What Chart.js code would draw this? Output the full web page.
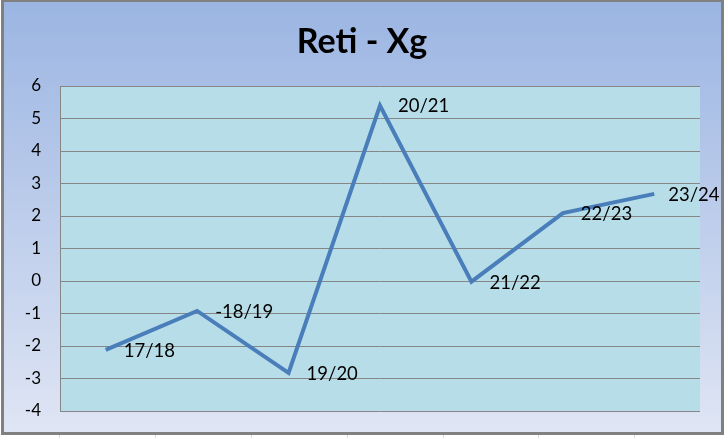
<!DOCTYPE html>
<html>
<head>
<meta charset="utf-8">
<script src="https://cdn.jsdelivr.net/npm/chart.js@4/dist/chart.umd.min.js"></script>
<style>
  html, body { margin: 0; padding: 0; background: #ffffff; }
  #wrap { width: 724px; height: 438px; position: relative; }
</style>
</head>
<body>
<div id="wrap"><canvas id="c" width="724" height="438"></canvas></div>
<script>
const chartTitle = "Reti - Xg";
const categories = ["17/18", "18/19", "19/20", "20/21", "21/22", "22/23", "23/24"];
const pointLabels = ["17/18", "-18/19", "19/20", "20/21", "21/22", "22/23", "23/24"];
const values = [-2.12, -0.92, -2.83, 5.4, -0.02, 2.09, 2.68];
const yMin = -4, yMax = 6, yStep = 1;

const frameBg = {
  id: 'frameBg',
  beforeDraw(chart) {
    const ctx = chart.ctx, W = chart.width, H = chart.height;
    ctx.save();
    ctx.fillStyle = '#ffffff';
    ctx.fillRect(0, 0, W, H);
    ctx.strokeStyle = '#d9d9d9';
    ctx.lineWidth = 1;
    [59, 155, 251, 347, 443, 538, 634].forEach(x => {
      ctx.beginPath(); ctx.moveTo(x + 0.5, 434); ctx.lineTo(x + 0.5, H); ctx.stroke();
    });
    const g = ctx.createLinearGradient(0, 0, 0, 434);
    g.addColorStop(0, '#9bb5e2');
    g.addColorStop(1, '#dfe5f4');
    ctx.fillStyle = g;
    ctx.fillRect(2, 0, 721, 434);
    ctx.strokeStyle = '#808080';
    ctx.lineWidth = 3;
    ctx.strokeRect(2.5, 0.5, 720, 433);
    const a = chart.chartArea;
    ctx.fillStyle = '#b7dee8';
    ctx.fillRect(a.left, a.top, a.right - a.left, a.bottom - a.top);
    ctx.fillStyle = '#000000';
    ctx.font = 'bold 34px Lato';
    ctx.textAlign = 'center';
    ctx.textBaseline = 'alphabetic';
    ctx.fillText(chartTitle, 362, 53);
    ctx.restore();
  }
};

const labelPlugin = {
  id: 'pointLabelsPlugin',
  afterDatasetsDraw(chart) {
    const ctx = chart.ctx;
    const meta = chart.getDatasetMeta(0);
    ctx.save();
    ctx.fillStyle = '#000000';
    ctx.font = '18.5px Lato';
    ctx.textAlign = 'left';
    ctx.textBaseline = 'middle';
    meta.data.forEach((pt, i) => {
      const dx = (i === meta.data.length - 1) ? 14 : 18;
      ctx.fillText(pointLabels[i], pt.x + dx, pt.y + 1);
    });
    ctx.restore();
  }
};

new Chart(document.getElementById('c'), {
  type: 'line',
  data: {
    labels: categories,
    datasets: [{
      data: values,
      borderColor: '#4a7ebb',
      borderWidth: 4,
      pointRadius: 0,
      pointHoverRadius: 0,
      tension: 0,
      fill: false
    }]
  },
  options: {
    responsive: false,
    animation: false,
    devicePixelRatio: 1,
    layout: { padding: { top: 86, bottom: 27, left: 0, right: 24 } },
    plugins: { legend: { display: false }, title: { display: false }, tooltip: { enabled: false } },
    scales: {
      x: {
        type: 'category',
        offset: true,
        display: false
      },
      y: {
        min: yMin,
        max: yMax,
        afterFit(scale) { scale.width = 60; scale.paddingTop = 0; scale.paddingBottom = 0; },
        ticks: {
          stepSize: yStep,
          color: '#000000',
          font: { family: 'Lato', size: 17 },
          padding: 19
        },
        grid: { color: '#868686', lineWidth: 1, drawTicks: false },
        border: { display: true, color: '#868686', width: 1 }
      }
    }
  },
  plugins: [frameBg, labelPlugin]
});
</script>
</body>
</html>
